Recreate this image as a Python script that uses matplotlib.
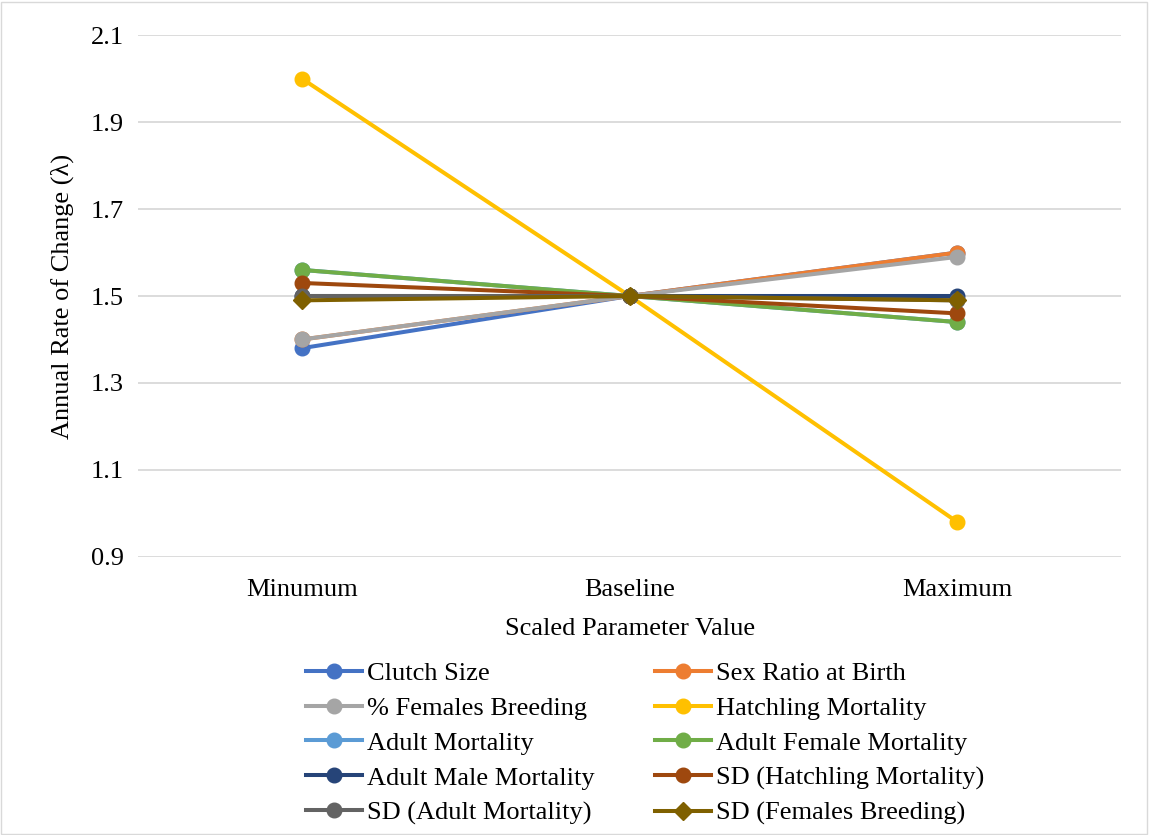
import matplotlib
matplotlib.use("Agg")
import matplotlib.pyplot as plt
from matplotlib.patches import Rectangle

categories = ["Minumum", "Baseline", "Maximum"]

series_names = [
    "Clutch Size", "Sex Ratio at Birth", "% Females Breeding", "Hatchling Mortality",
    "Adult Mortality", "Adult Female Mortality", "Adult Male Mortality",
    "SD (Hatchling Mortality)", "SD (Adult Mortality)", "SD (Females Breeding)",
]
clutch_size = [1.38, 1.50, 1.60]
sex_ratio = [1.40, 1.50, 1.60]
females_breeding = [1.40, 1.50, 1.59]
hatchling_mortality = [2.00, 1.50, 0.98]
adult_mortality = [1.56, 1.50, 1.44]
adult_female_mortality = [1.56, 1.50, 1.44]
adult_male_mortality = [1.50, 1.50, 1.50]
sd_hatchling = [1.53, 1.50, 1.46]
sd_adult = [1.50, 1.50, 1.49]
sd_females = [1.49, 1.50, 1.49]

values = [clutch_size, sex_ratio, females_breeding, hatchling_mortality,
          adult_mortality, adult_female_mortality, adult_male_mortality,
          sd_hatchling, sd_adult, sd_females]
colors = ["#4472C4", "#ED7D31", "#A5A5A5", "#FFC000", "#5B9BD5",
          "#70AD47", "#264478", "#9E480E", "#636363", "#7F6000"]
markers = ["o"] * 9 + ["D"]

yticks = [0.9, 1.1, 1.3, 1.5, 1.7, 1.9, 2.1]

plt.rcParams["font.family"] = ["Liberation Serif", "DejaVu Serif"]
FS = 19

fig = plt.figure(figsize=(11.49, 8.35), dpi=100)
ax = fig.add_axes([0.120, 0.333, 0.856, 0.625])

x = list(range(len(categories)))
handles = []
for name, vals, c, m in zip(series_names, values, colors, markers):
    h, = ax.plot(x, vals, color=c, lw=2.9, marker=m,
                 markersize=10.5 if m == "o" else 9.5, label=name, zorder=3)
    handles.append(h)

ax.set_xlim(-0.5, 2.5)
ax.set_ylim(0.9, 2.1)
ax.set_yticks(yticks)
ax.set_yticklabels([f"{t:.1f}" for t in yticks])
ax.set_xticks(x)
ax.set_xticklabels(categories)
ax.grid(axis="y", color="#d9d9d9", lw=1.3, zorder=0)
for s in ax.spines.values():
    s.set_visible(False)
ax.tick_params(length=0, labelsize=FS, colors="black")
ax.tick_params(axis="x", pad=16)
ax.tick_params(axis="y", pad=10)

ax.set_ylabel("Annual Rate of Change (λ)", fontsize=FS, labelpad=12)
ax.set_xlabel("Scaled Parameter Value", fontsize=FS, labelpad=12)

# legend reads left-to-right, row by row
order = [0, 2, 4, 6, 8, 1, 3, 5, 7, 9]
leg = ax.legend([handles[i] for i in order], [series_names[i] for i in order],
                loc="upper center", bbox_to_anchor=(0.516, -0.155), ncol=2,
                frameon=False, fontsize=FS, handlelength=2.1,
                columnspacing=2.3, labelspacing=0.43, handletextpad=0.2)

fig.add_artist(Rectangle((0.001, 0.001), 0.997, 0.997, transform=fig.transFigure,
                         fill=False, edgecolor="#d9d9d9", lw=1))

fig.savefig("out.png", dpi=100)
